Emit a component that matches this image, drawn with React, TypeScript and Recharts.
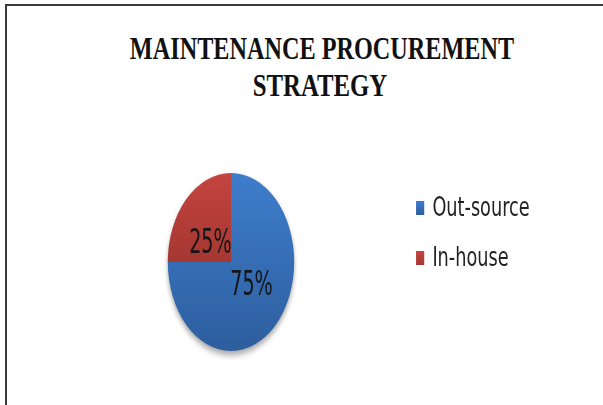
import React from 'react';
import { PieChart, Pie, Cell, Legend } from 'recharts';

const categories = ['Out-source', 'In-house'];
const values = [75, 25];
const percentLabels = ['75%', '25%'];
const gradTop = ['#3E7DCC', '#C4443F'];
const gradBottom = ['#2D5E9E', '#A53732'];
const titleLines = ['MAINTENANCE PROCUREMENT', 'STRATEGY'];

const data = categories.map((name, i) => ({ name, value: values[i] }));
const shadowData = [{ name: 'shadow', value: 1 }];

const W = 603;
const H = 405;
const SX = 0.71;
const CW = Math.round(W / SX);

const RADIAN = Math.PI / 180;

const renderLabel = (p: any) => {
  const { cx, cy, midAngle, index } = p;
  const rFinal = 29;
  const x = cx + (rFinal * Math.cos(-midAngle * RADIAN)) / SX;
  const y = cy + rFinal * Math.sin(-midAngle * RADIAN);
  return (
    <text
      transform={`translate(${x},${y + 12}) scale(0.82,1)`}
      textAnchor="middle"
      fontSize={33}
      fontFamily="DejaVu Sans"
      fill="#151515"
    >
      {percentLabels[index]}
    </text>
  );
};

const legendScale = 0.96;

const renderLegend = () => (
  <svg width={CW} height={H} style={{ position: 'absolute', left: 0, top: 0, overflow: 'visible' }}>
    {categories.map((c, i) => (
      <g key={c}>
        <rect x={586} y={201 + i * 50} width={11.5} height={14} fill={`url(#grad${i})`} />
        <text
          transform={`translate(609,${216 + i * 50}) scale(${legendScale},1)`}
          fontSize={26}
          fontFamily="DejaVu Sans"
          fill="#222"
        >
          {c}
        </text>
      </g>
    ))}
  </svg>
);

export default function App() {
  return (
    <div style={{ position: 'absolute', left: 0, top: 0, width: W, height: H, background: '#fff', overflow: 'hidden' }}>
      <div
        style={{
          position: 'absolute',
          left: 5,
          top: 4,
          width: 620,
          height: 420,
          borderTop: '2px solid #3a3a3a',
          borderLeft: '2px solid #3a3a3a',
          boxSizing: 'border-box',
        }}
      />
      <svg width={W} height={H} style={{ position: 'absolute', left: 0, top: 0 }}>
        <text
          transform="translate(322,59) scale(0.782,1)"
          textAnchor="middle"
          fontSize={31}
          fontWeight="bold"
          fontFamily="Liberation Serif"
          fill="#111"
        >
          {titleLines[0]}
        </text>
        <text
          transform="translate(320,96) scale(0.8,1)"
          textAnchor="middle"
          fontSize={31}
          fontWeight="bold"
          fontFamily="Liberation Serif"
          fill="#111"
        >
          {titleLines[1]}
        </text>
      </svg>
      <div
        style={{
          position: 'absolute',
          left: 0,
          top: 0,
          width: CW,
          height: H,
          transform: `scaleX(${SX})`,
          transformOrigin: '0 0',
        }}
      >
        <PieChart width={CW} height={H} margin={{ top: 0, right: 0, bottom: 0, left: 0 }}>
          <defs>
            {categories.map((c, i) => (
              <linearGradient key={c} id={`grad${i}`} x1="0" y1="0" x2="0" y2="1">
                <stop offset="0%" stopColor={gradTop[i]} />
                <stop offset="100%" stopColor={gradBottom[i]} />
              </linearGradient>
            ))}
            <filter id="softShadow" x="-50%" y="-50%" width="200%" height="200%">
              <feGaussianBlur stdDeviation="3" />
            </filter>
          </defs>
          <Pie
            data={shadowData}
            dataKey="value"
            cx={231 / SX}
            cy={266}
            outerRadius={89}
            startAngle={90}
            endAngle={-270}
            stroke="none"
            isAnimationActive={false}
            legendType="none"
          >
            <Cell fill="#000" fillOpacity={0.35} filter="url(#softShadow)" />
          </Pie>
          <Pie
            data={data}
            dataKey="value"
            nameKey="name"
            cx={231 / SX}
            cy={262}
            outerRadius={89}
            startAngle={90}
            endAngle={-270}
            stroke="none"
            label={renderLabel}
            labelLine={false}
            isAnimationActive={false}
          >
            {data.map((d, i) => (
              <Cell key={d.name} fill={`url(#grad${i})`} />
            ))}
          </Pie>
          <Legend
            content={renderLegend}
            wrapperStyle={{ position: 'absolute', left: 0, top: 0, width: CW, height: H, pointerEvents: 'none' }}
          />
        </PieChart>
      </div>
    </div>
  );
}
